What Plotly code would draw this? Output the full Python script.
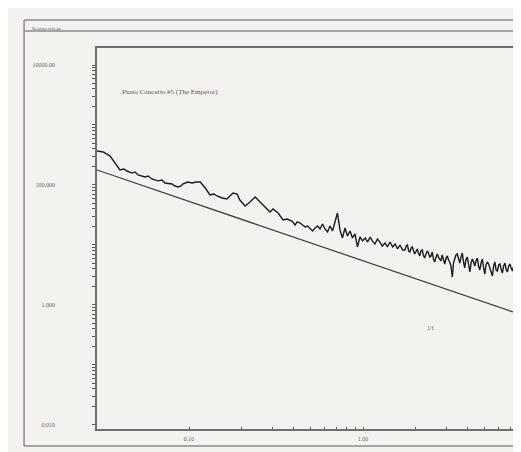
import math
import plotly.graph_objects as go

# ---- data ----
freq_low = [0.0296, 0.0321, 0.0352, 0.0376, 0.0401, 0.0423, 0.0440, 0.0470, 0.0490, 0.0509,
            0.0559, 0.0581, 0.0612, 0.0663, 0.0700, 0.0728, 0.0798, 0.0831, 0.0865, 0.0900,
            0.0924, 0.0987, 0.104, 0.110, 0.116, 0.124, 0.132, 0.139, 0.145, 0.155,
            0.165, 0.179, 0.189, 0.196, 0.210, 0.224, 0.240, 0.256, 0.274, 0.292,
            0.304, 0.325, 0.347, 0.366, 0.391, 0.407, 0.418]
power_low = [369, 355, 304, 233, 178, 185, 171, 158, 165, 147,
             136, 141, 126, 117, 121, 108, 104, 96.2, 92.6, 96.2,
             104, 112, 108, 112, 112, 89.1, 68.1, 70.8, 65.6, 60.7,
             58.5, 73.6, 70.8, 56.2, 44.7, 52.1, 63.1, 52.1, 43.0, 35.5,
             39.8, 34.1, 26.1, 27.1, 25.1, 21.5, 24.2]

freq_mid = [0.435, 0.450, 0.465, 0.480, 0.496, 0.513, 0.530, 0.548, 0.566, 0.585,
            0.605, 0.625, 0.646, 0.668, 0.690, 0.713, 0.737, 0.762, 0.788, 0.814,
            0.842, 0.870, 0.899, 0.929, 0.960, 0.993, 1.03, 1.06, 1.10, 1.13,
            1.17, 1.21, 1.25, 1.29, 1.34, 1.38, 1.43, 1.48, 1.53, 1.58,
            1.63, 1.69]
power_mid = [23.2, 21.5, 20.0, 20.7, 18.5, 17.1, 19.2, 20.7, 18.5, 22.4,
             18.5, 16.5, 20.7, 17.1, 24.2, 34.1, 17.8, 13.1, 19.2, 14.1,
             17.1, 13.1, 15.3, 9.26, 13.6, 11.7, 13.1, 11.2, 13.6, 11.7,
             10.4, 12.6, 11.2, 9.62, 10.8, 9.26, 11.2, 9.26, 10.4, 8.58,
             10.0, 8.25]

freq_high = [1.74, 1.77, 1.80, 1.83, 1.86, 1.89, 1.92, 1.95, 1.98, 2.01,
             2.05, 2.08, 2.12, 2.15, 2.19, 2.22, 2.26, 2.30, 2.34, 2.38,
             2.42, 2.46, 2.50, 2.54, 2.58, 2.62, 2.67, 2.71, 2.76, 2.80,
             2.85, 2.90, 2.95, 3.00, 3.05, 3.10, 3.15, 3.20, 3.26, 3.31,
             3.37, 3.42, 3.48, 3.54, 3.60, 3.66, 3.72, 3.78, 3.84, 3.90,
             3.97, 4.04, 4.11, 4.18, 4.25, 4.32, 4.39, 4.46, 4.54, 4.61,
             4.69, 4.77, 4.85, 4.93, 5.01, 5.09, 5.18, 5.27, 5.36, 5.45,
             5.54, 5.63, 5.72, 5.82, 5.92, 6.02, 6.12, 6.22, 6.32, 6.43,
             6.54, 6.65, 6.76, 6.87, 6.98, 7.10, 7.22, 7.34, 7.46, 7.52,
             7.57]
power_high = [8.25, 9.62, 10.0, 7.94, 7.64, 8.91, 9.26, 8.25, 7.08, 7.64,
              8.58, 7.36, 6.56, 7.94, 8.25, 6.81, 6.07, 7.08, 7.94, 7.36,
              6.31, 6.56, 7.64, 5.84, 5.21, 6.07, 7.08, 6.31, 5.62, 5.41,
              6.81, 5.84, 4.82, 6.07, 6.56, 5.62, 5.21, 4.47, 2.93, 5.01,
              6.07, 6.81, 7.08, 5.84, 5.01, 6.31, 7.36, 5.21, 4.14, 5.62,
              6.31, 4.82, 3.55, 5.01, 5.84, 5.21, 4.47, 5.41, 6.07, 4.47,
              3.83, 5.01, 5.84, 4.14, 3.28, 4.64, 5.21, 4.82, 4.14, 3.69,
              3.04, 4.47, 5.21, 3.83, 3.69, 4.64, 4.82, 3.98, 3.41, 4.47,
              5.01, 3.83, 3.55, 4.47, 4.82, 4.14, 3.69, 4.47, 5.01, 4.47,
              3.98]

# reference 1/f line (end points)
freq_ref = [0.0296, 7.57]
power_ref = [178, 0.735]

x_range = [0.0296, 7.57]
y_range = [0.00857, 19200]

x_tickvals = [0.1, 0.2, 0.3, 0.4, 0.5, 0.6, 0.7, 0.8, 0.9, 1, 2, 3, 4, 5, 6, 7]
x_labels = {0.1: "0.10", 1: "1.00"}
y_tickvals = [m * 10 ** k for k in range(-2, 5) for m in range(1, 10) if m * 10 ** k <= 19000]
y_labels = {0.01: "0.010", 1: "1.000", 100: "100.000", 10000: "10000.00"}

title_text = "Piano Concerto #5 (The Emperor)"
ref_label = "1/f"
header_text = "Beatspectra.ps"

freq = freq_low + freq_mid + freq_high
power = power_low + power_mid + power_high

fig = go.Figure()
fig.add_trace(go.Scatter(x=freq, y=power, mode="lines",
                         line=dict(color="#1c1c1c", width=1.4)))
fig.add_trace(go.Scatter(x=freq_ref, y=power_ref, mode="lines",
                         line=dict(color="#3a3a3a", width=1.2)))

bg = "#f3f2ee"
font_family = "Liberation Serif"
fig.update_layout(
    width=521, height=452,
    margin=dict(l=89, r=13, t=40, b=31),
    paper_bgcolor=bg, plot_bgcolor=bg,
    showlegend=False,
    font=dict(family=font_family, size=6, color="#666"),
)

def fmt(v, labels):
    for k, s in labels.items():
        if abs(v - k) < 1e-9 * max(1, k):
            return s
    return ""

fig.update_xaxes(
    type="log",
    range=[math.log10(x_range[0]), math.log10(x_range[1])],
    tickmode="array", tickvals=x_tickvals,
    ticktext=[fmt(v, x_labels) for v in x_tickvals],
    ticks="inside", ticklen=2, tickcolor="#555", tickwidth=1,
    showline=True, mirror=True, linecolor="#6e6e6e", linewidth=1.5,
    showgrid=False, zeroline=False,
    tickfont=dict(family=font_family, size=6, color="#666"),
    ticklabelstandoff=3,
)
fig.update_yaxes(
    type="log",
    range=[math.log10(y_range[0]), math.log10(y_range[1])],
    tickmode="array", tickvals=y_tickvals,
    ticktext=[fmt(v, y_labels) for v in y_tickvals],
    ticks="outside", ticklen=3, tickcolor="#555", tickwidth=1,
    showline=True, mirror=True, linecolor="#6e6e6e", linewidth=1.5,
    showgrid=False, zeroline=False,
    tickfont=dict(family=font_family, size=6, color="#666"),
    ticklabelstandoff=36,
)

fig.add_annotation(text=title_text, xref="paper", yref="paper", x=0.055, y=0.8845,
                   xanchor="left", yanchor="middle", showarrow=False,
                   font=dict(family=font_family, size=7, color="#555"))
fig.add_annotation(text=ref_label, xref="paper", yref="paper", x=0.795, y=0.265,
                   xanchor="center", yanchor="middle", showarrow=False,
                   font=dict(family=font_family, size=6, color="#666"))
fig.add_annotation(text=header_text, xref="paper", yref="paper", x=-0.160, y=1.050,
                   xanchor="left", yanchor="middle", showarrow=False,
                   font=dict(family=font_family, size=5, color="#666"))

frame = dict(color="#8a8a8a", width=1.5)
x0, x1, yb, yt, yh = -0.174, 1.05, -0.0446, 1.0735, 1.0446
fig.add_shape(type="line", xref="paper", yref="paper", x0=x0, x1=x1, y0=yt, y1=yt, line=frame)
fig.add_shape(type="line", xref="paper", yref="paper", x0=x0, x1=x1, y0=yh, y1=yh, line=frame)
fig.add_shape(type="line", xref="paper", yref="paper", x0=x0, x1=x1, y0=yb, y1=yb, line=frame)
fig.add_shape(type="line", xref="paper", yref="paper", x0=x0, x1=x0, y0=yb, y1=yt, line=frame)

fig.write_html("out.html")
